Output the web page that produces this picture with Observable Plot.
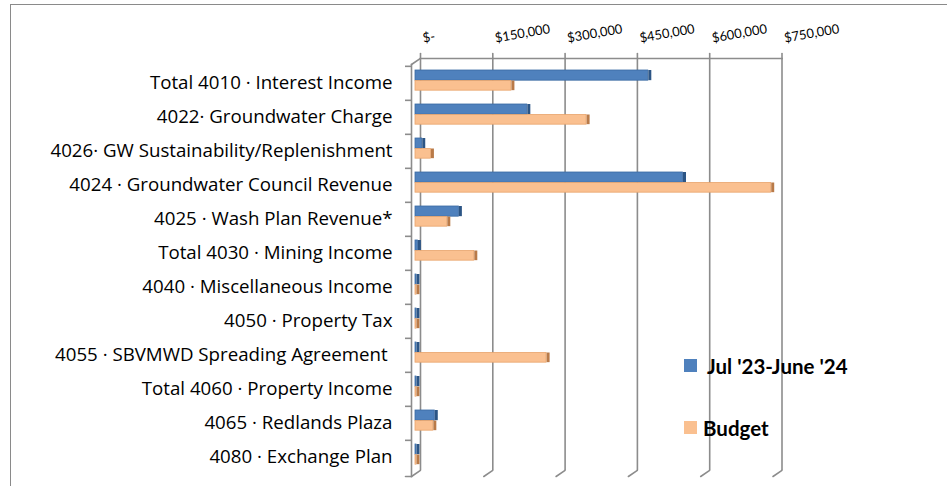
<!DOCTYPE html>
<html>
<head>
<meta charset="utf-8">
<script src="https://cdn.jsdelivr.net/npm/d3@7"></script>
<script src="https://cdn.jsdelivr.net/npm/@observablehq/plot@0.6"></script>
<style>
  html, body { margin: 0; padding: 0; background: #fff; overflow: hidden; }
  #wrap { position: relative; width: 947px; height: 486px; overflow: hidden; }
  #border { position: absolute; left: 10px; top: 4px; width: 2000px; height: 2000px;
            border-left: 1.5px solid #8a8a8a; border-top: 1.5px solid #8a8a8a; }
  #chart { position: absolute; left: 0; top: 0; }
  .leg { position: absolute; font-family: Lato, sans-serif; font-weight: bold; font-size: 20.5px; color: #000; white-space: nowrap; line-height: 1; }
  .sw { position: absolute; width: 13px; height: 13px; }
</style>
</head>
<body>
<div id="wrap">
  <div id="border"></div>
  <div id="chart"></div>
  <div id="legend"></div>
</div>
<script>
const categories = [
  "Total 4010 · Interest Income",
  "4022· Groundwater Charge",
  "4026· GW Sustainability/Replenishment",
  "4024 · Groundwater Council Revenue",
  "4025 · Wash Plan Revenue*",
  "Total 4030 · Mining Income",
  "4040 · Miscellaneous Income",
  "4050 · Property Tax",
  "4055 · SBVMWD Spreading Agreement\u00a0",
  "Total 4060 · Property Income",
  "4065 · Redlands Plaza",
  "4080 · Exchange Plan"
];
const actual = [483000, 232000, 14000, 555000, 90000, 5000, 2000, 2000, 2000, 2000, 40000, 2000];
const budget = [199000, 355000, 32000, 738000, 66000, 122000, 2000, 2000, 272000, 2000, 37000, 2000];
const xTicks = [0, 150000, 300000, 450000, 600000, 750000];
const seriesNames = ["Jul '23-June '24", "Budget"];
const seriesColors = ["#4F81BD", "#FAC090"];

const data = categories.map((c, i) => ({category: c, actual: actual[i], budget: budget[i]}));

const W = 947, H = 486;
const mTop = 64, mBottom = 10, mLeft = 415, mRight = 170.5;
const bw = (H - mTop - mBottom) / categories.length;
const grid = "#8c8c8c";
const seg = {draw(ctx, l) { ctx.moveTo(0, 0); ctx.lineTo(0, -l); }};
const fmt = d => d === 0 ? "$-" : "$" + d3.format(",")(d);

const chart = Plot.plot({
  width: W, height: H,
  marginTop: mTop, marginBottom: mBottom, marginLeft: mLeft, marginRight: mRight,
  x: {domain: [0, 750000], axis: null},
  y: {domain: categories, padding: 0, axis: null},
  style: {background: "transparent", fontFamily: "Lato, sans-serif", color: "#000"},
  marks: [
    // back wall gridlines
    Plot.ruleX(xTicks, {x: d => d, stroke: grid, strokeWidth: 1.6, dx: 5, dy: -6}),
    Plot.vector(xTicks, {x: d => d, frameAnchor: "top", length: 5, rotate: 0, anchor: "start", shape: seg, stroke: grid, strokeWidth: 1.6, dx: 5, dy: -6}),
    Plot.vector(xTicks, {x: d => d, frameAnchor: "bottom", length: 10.8, rotate: 56, anchor: "start", shape: seg, stroke: grid, strokeWidth: 1.6, dx: -4}),
    Plot.frame({anchor: "top", stroke: grid, strokeWidth: 1.6, dx: 5, dy: -6}),
    // left wall
    Plot.frame({anchor: "left", stroke: grid, strokeWidth: 1.6, dx: -4}),
    Plot.vector([0], {x: d => d, frameAnchor: "top", length: 10.8, rotate: 56, anchor: "start", shape: seg, stroke: grid, strokeWidth: 1.6, dx: -4}),
    Plot.axisY({tickSize: 6, tickFormat: () => "", label: null, stroke: grid, strokeWidth: 1.6, dx: -4, dy: -bw / 2}),
    Plot.vector([0], {x: d => d, frameAnchor: "bottom", length: 6, rotate: -90, anchor: "start", shape: seg, stroke: grid, strokeWidth: 1.6, dx: -4}),
    // category labels
    Plot.axisY({tickSize: 0, tickPadding: 23, label: null, fontSize: 18.7, fontFamily: "'Open Sans', sans-serif", fill: "#000"}),
    // x tick labels
    Plot.text(xTicks, {x: d => d, text: fmt, frameAnchor: "top", dx: 8, dy: -22, rotate: -10, textAnchor: "start", lineAnchor: "bottom", fontSize: 13, fill: "#000"}),
    // bars
    Plot.barX(data, {x: "actual", y: "category", fill: seriesColors[0], stroke: "#3b6aa3", strokeWidth: 0.8, insetTop: 4, insetBottom: bw - 14.5}),
    Plot.tickX(data, {x: "actual", y: "category", stroke: "#2c5585", strokeWidth: 3, dx: 1.5, insetTop: 4, insetBottom: bw - 14.5}),
    Plot.barX(data, {x: "budget", y: "category", fill: seriesColors[1], stroke: "#e8a46c", strokeWidth: 0.8, insetTop: 14.5, insetBottom: bw - 24.5}),
    Plot.tickX(data, {x: "budget", y: "category", stroke: "#b97a48", strokeWidth: 3, dx: 1.5, insetTop: 14.5, insetBottom: bw - 24.5})
  ]
});
document.getElementById("chart").appendChild(chart);

// legend
const legend = document.getElementById("legend");
const legPos = [{sx: 684, sy: 359, tx: 707, ty: 356}, {sx: 684, sy: 421, tx: 703, ty: 418}];
seriesNames.forEach((name, i) => {
  const sw = document.createElement("div");
  sw.className = "sw";
  sw.style.left = legPos[i].sx + "px";
  sw.style.top = legPos[i].sy + "px";
  sw.style.background = seriesColors[i];
  legend.appendChild(sw);
  const t = document.createElement("div");
  t.className = "leg";
  t.style.left = legPos[i].tx + "px";
  t.style.top = legPos[i].ty + "px";
  t.textContent = name;
  legend.appendChild(t);
});
</script>
</body>
</html>
